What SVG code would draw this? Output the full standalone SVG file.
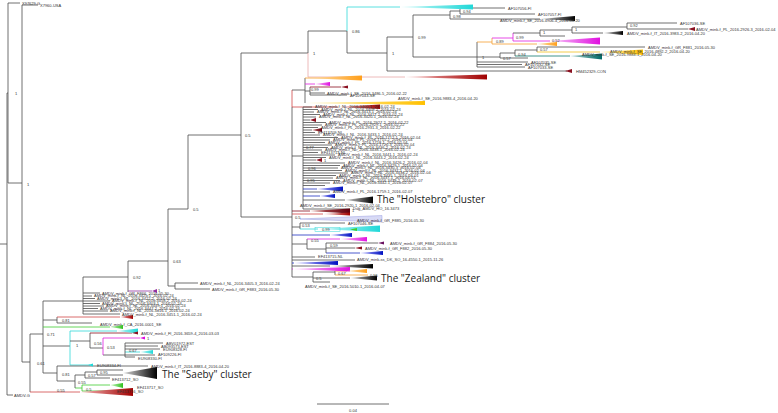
<svg xmlns="http://www.w3.org/2000/svg" width="778" height="413" viewBox="0 0 778 413">
<defs>
<style>
.e{fill:none;stroke:#4d4d4d;stroke-width:0.8}
.er{fill:none;stroke:#d04848;stroke-width:0.8}
.ep{fill:none;stroke:#e8a8a8;stroke-width:0.8}
.ec{fill:none;stroke:#30d8d8;stroke-width:0.8}
.eg{fill:none;stroke:#40cc30;stroke-width:0.8}
.em{fill:none;stroke:#e020e0;stroke-width:0.8}
.eo{fill:none;stroke:#f5a030;stroke-width:0.8}
.ey{fill:none;stroke:#f0c020;stroke-width:0.8}
.et{fill:none;stroke:#107a70;stroke-width:0.8}
.eb{fill:none;stroke:#2030c0;stroke-width:0.8}
.ev{fill:none;stroke:#9030a0;stroke-width:0.8}
.ed{fill:none;stroke:#8a1020;stroke-width:0.8}
text{font-family:"Liberation Sans",Arial,sans-serif;font-size:4px;fill:#333}
.cl{font-family:"Open Sans","Liberation Sans",Arial,sans-serif;font-size:10px;fill:#1a1a1a}
</style>
<linearGradient id="gR"><stop offset="0" stop-color="#f6b8b8"/><stop offset="1" stop-color="#a00000"/></linearGradient>
<linearGradient id="gC"><stop offset="0" stop-color="#c8f8f8"/><stop offset="1" stop-color="#20d8d8"/></linearGradient>
<linearGradient id="gK"><stop offset="0" stop-color="#d8d8d8"/><stop offset="1" stop-color="#000"/></linearGradient>
<linearGradient id="gM"><stop offset="0" stop-color="#f8c8f8"/><stop offset="1" stop-color="#e010e0"/></linearGradient>
<linearGradient id="gO"><stop offset="0" stop-color="#fde3b8"/><stop offset="1" stop-color="#ff9f1a"/></linearGradient>
<linearGradient id="gY"><stop offset="0" stop-color="#fff2b0"/><stop offset="1" stop-color="#ffc000"/></linearGradient>
<linearGradient id="gT"><stop offset="0" stop-color="#a8d0cc"/><stop offset="1" stop-color="#006a66"/></linearGradient>
<linearGradient id="gB"><stop offset="0" stop-color="#b0b0ff"/><stop offset="1" stop-color="#0010c0"/></linearGradient>
<linearGradient id="gG"><stop offset="0" stop-color="#c8f5c0"/><stop offset="1" stop-color="#30c020"/></linearGradient>
<linearGradient id="gD"><stop offset="0" stop-color="#c06060"/><stop offset="1" stop-color="#600010"/></linearGradient>
</defs>
<rect width="778" height="413" fill="#fff"/>

<g id="connectors">
<path class="e" d="M0,244H7M7,93V395M7,93H8M8,3V183M8,3H20M8,183H22M22,5V362M22,5H38M22,362H30M30,334V392M7,395H13M30,334H43M43,301V373M43,301H83M43,320H57M57,317V323M57,323H92M43,346H70M43,373H57"/>
<path class="er" d="M30,392H80M57,317H120"/>
<path class="eg" d="M43,327H110M75,388H82M82,385V391M82,385H110M82,391H115"/>
<path class="ec" d="M70,331V365M70,331H117M70,365H90M125,352H140"/>
<path class="e" d="M70,341H90M90,333V348M90,348H103M103,355H125M125,343V357M125,343H163M125,346H158M125,349H160M125,355H155M125,357H135"/>
<path class="ed" d="M90,333H132"/>
<path class="em" d="M103,338V355M103,338H140"/>
<path class="e" d="M57,366V381M57,366H148M57,381H75M75,375V388M75,375H85M85,372V378M85,372H97M97,370V375M97,370H123M97,375H123M85,378H110"/>
<path class="e" d="M83,277V314M83,277H128M83,293H100M83,296H92M83,298.5H95M83,301H110M83,303.5H100M83,306H104M83,308.5H98M83,311H108M83,314H120"/>
<path class="e" d="M128,261V292M128,261H168M168,209V286M168,209H188M168,286H175M175,283V289M175,283H198M175,289H210M188,135V209M188,135H241M241,53V217M241,53H308M241,217H292"/>
<path class="ev" d="M128,291H152"/>
<path class="e" d="M308,31V53M308,31H347M347,31V53M347,53H387M387,37V71M387,37H413M387,71H567"/>
<path class="ep" d="M308,53V77M308,77H405"/>
<path class="ec" d="M347,7V31M347,7H400"/>
<path class="e" d="M413,15V57M413,15H450M450,11V19M450,11H460M460,8V14M460,8H505M460,14H535M450,19H540M413,57H477M477,42V67M477,62H528M477,64.5H522M477,67H525"/>
<path class="eo" d="M477,42H492M492,38V44M492,44H537"/>
<path class="em" d="M492,38H513M513,33V41M513,41H550"/>
<path class="e" d="M513,33H540M540,30V36M540,36H565M540,30H572M572,27V33M572,33H603M572,27H627M627,23V29M627,23H677M627,29H688"/>
<path class="e" d="M477,57H500M500,53V58M500,58H528M500,53H515M515,50V56M515,50H537M537,47V52M537,47H645"/>
<path class="ey" d="M537,52H600"/>
<path class="et" d="M515,56H570"/>
<path class="er" d="M292,90V107M292,107H338"/>
<path class="e" d="M292,107V277M292,90H305M305,78V103M305,91H310M310,87V95M310,93H325M310,95H347M292,156H303M303,107V209"/>
<path class="em" d="M305,84H315"/>
<path class="ed" d="M310,87H341"/>
<path class="eo" d="M305,78H335"/>
<path class="e" d="M303,107H312M303,109.5H318M303,112H314M303,114.5H320M303,117H316M303,120H310M303,122.5H326M303,125H322M303,127.5H318M303,130H312M303,132.5H315M303,135H320M303,137.5H338M303,140H330M303,142.5H325M303,145H332M303,147.5H328M303,150H322M303,152.5H318M303,155H335M303,157.5H326M303,160H316M303,163H345M303,165.5H340M303,168H338M303,170.5H342M303,173H348M303,175.5H336M303,178H333M303,180.5H340M303,183H330M303,185.5H325M303,192H330M303,200H345M303,209H350"/>
<path class="eb" d="M303,189H317M303,196H320"/>
<path class="ed" d="M292,211H310"/>
<path class="er" d="M292,214H323"/>
<path class="e" d="M292,227H300M300,223V229M300,223H345"/>
<path class="ec" d="M300,229H318"/>
<path class="eb" d="M292,235H330M292,263H294M326,253H360"/>
<path class="e" d="M292,244H307M307,239V249M307,249H326M326,243V253M326,243H378M326,248H355M292,257H315M292,260H355M292,266H330"/>
<path class="em" d="M307,239H340M292,269H293"/>
<path class="e" d="M292,277H313M313,272V282M313,272H335M335,271V275M313,282H330M313,278H350"/>
<path class="eo" d="M335,271H347M335,275H368"/>
</g>

<g id="n-root-leaves">
<text x="22" y="4.5">X97629-G</text>
<text x="40" y="6.5">X7960-USA</text>
<text x="14" y="396.5">AMDV-G</text>
</g>

<g id="n-red-base"><polygon points="80,392 133,388 133,396" fill="url(#gR)"/></g>
<g id="n-red-081"><polygon points="120,317 133,315 133,319" fill="url(#gR)"/><text x="100" y="325.5">AMDV_mink-f_CA_2016-0001_SE</text></g>
<g id="n-green-327"><polygon points="110,327 123,325 123,329" fill="url(#gG)"/></g>
<g id="n-cyan-fi">
<polygon points="117,331 138,328.5 138,333.5" fill="url(#gC)"/>
<polygon points="88,365 93,363.5 93,366.5" fill="#20d8d8"/>
<text x="97" y="366.5">EU908334-FI</text>
<polygon points="132,333 138,331.5 138,334.5" fill="#8a1020"/>
<text x="141" y="334.5">AMDV_mink-f_FI_2016-3659-4_2016-03-03</text>
<polygon points="140,338 145,336.5 145,339.5" fill="#e010e0"/>
<text x="147" y="339.5" fill="#e010e0">1</text>
<text x="166" y="344.5">ABV01972-EST</text>
<text x="161" y="347.5">AB093573-EST</text>
<text x="163" y="350.5">EU908328-FI</text>
<polygon points="140,352 153,350 153,354" fill="url(#gC)"/>
<text x="158" y="356">AF109226-FI</text>
<text x="138" y="359.5">EU908330-FI</text>
</g>
<g id="n-saeby">
<text x="151" y="367.5">AMDV_mink-f_IT_2016-8883-4_2016-04-20</text>
<polygon points="123,373 157,367 157,379" fill="url(#gK)"/>
<text class="cl" x="162" y="377.5">The "Saeby" cluster</text>
<text x="112" y="380.5">EF413712_SO</text>
</g>
<g id="n-green-so">
<polygon points="110,385 123,383 123,388" fill="url(#gG)"/>
<text x="117" y="393">EF413716_SO</text>
<text x="137" y="389">EF413717_SO</text>
</g>
<g id="n-hprime">
<text x="102" y="294.5">AMDV_mink-f_GR_F866_2016-05-30</text>
<text x="94" y="297">AMDV_mink-f_NL_2016-3425-1_2016-02-24</text>
<text x="97" y="299.5">AMDV_mink-f_NL_2016-3422-2_2016-02-24</text>
<text x="112" y="302">AMDV_mink-f_NL_2016-3458-2_2016-02-24</text>
<text x="102" y="304.5">AMDV_mink-f_NL_2016-3403-1_2016-02-24</text>
<text x="106" y="307">AMDV_mink-f_NL_2016-3449-1_2016-02-24</text>
<text x="100" y="309.5">AMDV_mink-f_NL_2016-3447-2_2016-02-24</text>
<text x="110" y="312">AMDV_mink-f_NL_2016-3416-1_2016-02-24</text>
<text x="122" y="315.5">AMDV_mink-f_NL_2016-3451-1_2016-02-24</text>
</g>
<g id="n-purple-292"><polygon points="152,291 157,289 157,293" fill="#9030a0"/><text x="158" y="291.5" fill="#9030a0">1</text></g>
<g id="n-g-leaves">
<text x="200" y="284.5">AMDV_mink-f_NL_2016-3405-3_2016-02-24</text>
<text x="212" y="290.5">AMDV_mink-f_GR_F883_2016-05-30</text>
</g>

<g id="n-top">
<polygon points="400,7 473,4.5 473,9.5" fill="url(#gC)"/>
<polygon points="405,77 487,74.5 487,79.5" fill="url(#gR)"/>
<polygon points="565,71 572,69 572,73" fill="#8a1020"/>
<text x="576" y="72.5">HM452329-CON</text>
<text x="508" y="9.5">AF107056-FI</text>
<text x="538" y="15.5">AF107057-FI</text>
<polygon points="540,19 575,16 575,21" fill="url(#gK)"/>
<text x="500" y="22">AMDV_mink-f_SE_2016-4906-4_2016-04-20</text>
<polygon points="537,44 557,42 557,46" fill="url(#gO)"/>
<polygon points="550,41 600,37.5 600,44.5" fill="url(#gM)"/>
<polygon points="603,33 623,31 623,35" fill="url(#gK)"/>
<text x="627" y="35">AMDV_mink-f_IT_2016-3983-2_2016-04-20</text>
<text x="680" y="24.5">AF107036-SE</text>
<polygon points="688,29 695,27 695,31" fill="#8a1020"/>
<text x="696" y="30.5">AMDV_mink-f_PL_2016-2926-3_2016-02-04</text>
<text x="648" y="48.5">AMDV_mink-f_GR_F881_2016-05-30</text>
<polygon points="600,52 643,49.5 643,55" fill="url(#gY)"/>
<text x="610" y="53">AMDV_mink-f_SE_2016-4892-2_2016-04-20</text>
<polygon points="570,56 602,53.5 602,59.5" fill="url(#gT)"/>
<text x="582" y="56">AMDV_mink-f_SE_2016-9883-1_2016-04-20</text>
<text x="531" y="63.5">AF107035-SE</text>
<text x="525" y="66">AF107032-SE</text>
<text x="528" y="68.5">AF107033-SE</text>
</g>

<g id="n-mid-top">
<polygon points="305,78 362,75.5 362,80.5" fill="url(#gO)"/>
<polygon points="315,84 330,82 330,86" fill="url(#gM)"/>
<polygon points="341,87 348,85.5 348,88.5" fill="#8a1020"/>
<text x="327" y="94.5">AMDV_mink-f_SE_2016-3486-5_2016-02-22</text>
<text x="350" y="97">AF107043-SE</text>
<polygon points="305,103 425,101 425,105" fill="url(#gY)"/>
<text x="398" y="100">AMDV_mink-f_SE_2016-9883-4_2016-04-20</text>
<polygon points="338,107 380,104.5 380,109" fill="url(#gR)"/>
</g>

<g id="n-inner">
<text x="315" y="108.4">AMDV_mink-f_NL_2016-3400-1_2016-02-24</text>
<text x="321" y="110.9">AMDV_mink-f_NL_2016-3409-2_2016-02-24</text>
<text x="317" y="113.4">AMDV_mink-f_NL_2016-3413-1_2016-02-24</text>
<text x="323" y="115.9">AMDV_mink-f_NL_2016-3417-2_2016-02-24</text>
<text x="319" y="118.4">AMDV_mink-f_NL_2016-3420-1_2016-02-24</text>
<polygon points="310,120 316,118 316,122" fill="#8a1020"/>
<text x="329" y="123.9">AMDV_mink-f_PL_2016-2927-2_2016-02-22</text>
<text x="325" y="126.4">AMDV_mink-f_PL_2016-2929-1_2016-02-22</text>
<text x="321" y="128.9">AMDV_mink-f_PL_2016-2931-3_2016-02-22</text>
<polygon points="312,130 322,128 322,132" fill="url(#gD)"/>
<text x="318" y="133.9">EF413709-NL</text>
<text x="323" y="136.4">AMDV_mink-f_NL_2016-3433-1_2016-02-24</text>
<text x="341" y="138.9">AMDV_mink-f_PL_2016-1712-1_2016-02-04</text>
<text x="333" y="141.4">AMDV_mink-f_PL_2016-1715-2_2016-02-04</text>
<text x="328" y="143.9">AMDV_mink-f_PL_2016-1718-1_2016-02-04</text>
<text x="335" y="146.4">AMDV_mink-f_PL_2016-1720-3_2016-02-04</text>
<text x="331" y="148.9">AMDV_mink-f_NL_2016-3436-2_2016-02-24</text>
<text x="325" y="151.4">AMDV_mink-f_NL_2016-3438-1_2016-02-24</text>
<text x="321" y="153.9">EF413713-NL</text>
<text x="338" y="156.4">AMDV_mink-f_NL_2016-3441-1_2016-02-24</text>
<text x="329" y="158.9">AMDV_mink-f_NL_2016-3443-2_2016-02-24</text>
<polygon points="316,160 322,158 322,162" fill="#8a1020"/>
<text x="324" y="161.5" fill="#9030a0">1</text>
<text x="348" y="164.4">AMDV_mink-f_NL_2016-3426-2_2016-02-04</text>
<text x="343" y="166.9">AMDV_mink-f_NL_2016-3429-1_2016-02-04</text>
<text x="341" y="169.4">AMDV_mink-f_NL_2016-3430-3_2016-02-04</text>
<text x="345" y="171.9">AMDV_mink-f_NL_2016-3431-1_2016-02-04</text>
<text x="351" y="174.4">AMDV_mink-f_NL_2016-3434-2_2016-02-04</text>
<text x="339" y="176.9">AMDV_mink-f_NL_2016-3435-1_2016-04-01</text>
<text x="336" y="179.4">AMDV_mink-f_NL_2016-3437-1_2016-04-01</text>
<text x="343" y="181.9">AMDV_mink-f_NL_2016-3439-2_2016-02-07</text>
<text x="333" y="184.4">AMDV_mink-f_NL_2016-3442-1_2016-02-07</text>
<polygon points="317,189 343,186.5 343,191.5" fill="url(#gB)"/>
<text x="333" y="193.4">AMDV_mink-f_PL_2016-1759-1_2016-02-07</text>
<polygon points="320,196 335,194 335,198" fill="url(#gB)"/>
<text x="353" y="210.4">Dug_AMDV_HO_16-3473</text>
</g>
<g id="n-holstebro">
<polygon points="345,200 373,196.5 373,203.5" fill="url(#gK)"/>
<text x="300" y="206.5">AMDV_mink-f_SE_2016-2920-1_2016-02-04</text>
<text class="cl" x="377" y="202.5">The "Holstebro" cluster</text>
</g>

<g id="n-mid-low">
<polygon points="310,211 350,208.5 350,213.5" fill="url(#gD)"/>
<polygon points="323,214 350,212.5 350,215.5" fill="url(#gR)"/>
<polygon points="300,219 382,215.5 382,222" fill="#d8daf6" stroke="#9a9ee0" stroke-width="0.5"/>
<text x="357" y="222">AMDV_mink-f_GR_F885_2016-05-30</text>
<text x="348" y="225">AF107046-SE</text>
<polygon points="318,229 380,225.5 380,232" fill="url(#gC)"/>
<rect x="315" y="227.5" width="25" height="4" fill="none" stroke="#30d8d8" stroke-width="0.5"/>
<polygon points="350,229.5 357,228 357,231" fill="#40cc30"/>
<polygon points="330,235 352,233 352,237" fill="url(#gB)"/>
<polygon points="340,239 367,237 367,241.5" fill="url(#gM)"/>
<polygon points="378,243 384,241.5 384,244.5" fill="#6a1060"/>
<text x="390" y="244.5">AMDV_mink-f_GR_F884_2016-05-30</text>
<polygon points="355,248 362,246.5 362,249.5" fill="#8a1020"/>
<text x="365" y="249.5">AMDV_mink-f_GR_F882_2016-05-30</text>
<polygon points="360,253 383,251 383,255" fill="url(#gB)"/>
<text x="318" y="258.4">EF413715-NL</text>
<text x="357" y="261.4">AMDV_mink-ss_DK_SO_16-4550-1_2015-11-26</text>
<polygon points="294,263 338,261 338,265" fill="url(#gB)"/>
<polygon points="330,266 373,264 373,268.5" fill="url(#gK)"/>
<polygon points="293,269 350,267 350,271.5" fill="url(#gM)"/>
<polygon points="347,271 367,269 367,273" fill="url(#gO)"/>
</g>
<g id="n-zealand">
<polygon points="350,278 377,275.5 377,280.5" fill="url(#gK)"/>
<text x="305" y="288">AMDV_mink-f_SE_2016-5010-1_2016-04-07</text>
<text class="cl" x="381" y="281.5">The "Zealand" cluster</text>
</g>

<g id="supports">
<text x="15" y="94.5">1</text>
<text x="27" y="185.5">1</text>
<text x="245" y="137">0.5</text>
<text x="193" y="211">0.5</text>
<text x="173" y="263">0.63</text>
<text x="133" y="279">0.92</text>
<text x="47" y="335.5">0.71</text>
<text x="37" y="364.5">0.61</text>
<text x="62" y="321.5">0.81</text>
<text x="76" y="347">1</text>
<text x="94" y="344.5">0.56</text>
<text x="107" y="348.5">0.53</text>
<text x="129" y="351.5">0.67</text>
<text x="62" y="375.5">0.81</text>
<text x="78" y="384">0.55</text>
<text x="88" y="376.5">0.57</text>
<text x="100" y="373.5">0.95</text>
<text x="86" y="390.5" fill="#30a020">0.5</text>
<text x="57" y="391.5" fill="#d04848">0.55</text>
<text x="313" y="55">1</text>
<text x="352" y="33">0.86</text>
<text x="392" y="55">1</text>
<text x="418" y="38.5">0.99</text>
<text x="453" y="18">0.98</text>
<text x="463" y="12.5">0.94</text>
<text x="482" y="59">1</text>
<text x="496" y="43">0.89</text>
<text x="516" y="39">0.99</text>
<text x="543" y="34">1</text>
<text x="575" y="31">1</text>
<text x="630" y="27">0.92</text>
<text x="552" y="42" fill="#f5a030">0.52</text>
<text x="503" y="60">0.57</text>
<text x="518" y="56">0.94</text>
<text x="540" y="51">0.57</text>
<text x="295" y="218.5">0.5</text>
<text x="311" y="91">0.99</text>
<text x="302" y="227">0.53</text>
<text x="322" y="231">0.99</text>
<text x="311" y="242">0.55</text>
<text x="330" y="247">0.59</text>
<text x="316" y="279.5">0.5</text>
<text x="338" y="274.5">0.67</text>
<text x="370" y="277" fill="#f5a030">0.55</text>
<text x="352" y="212">1</text>
<text x="306" y="149">0.77</text>
<text x="308" y="170">0.96</text>
<text x="307" y="182">0.95</text>
</g>

<g id="scale">
<path class="e" d="M317,404H389"/>
<text x="353" y="412" text-anchor="middle">0.04</text>
</g>
</svg>
